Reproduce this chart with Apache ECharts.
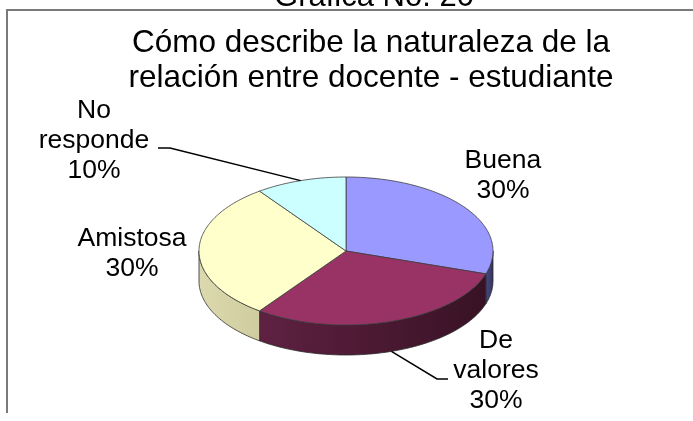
<!DOCTYPE html>
<html>
<head>
<meta charset="utf-8">
<script src="https://cdn.jsdelivr.net/npm/echarts@6/dist/echarts.min.js"></script>
<style>
  html, body { margin: 0; padding: 0; background: #fff; }
  #chart { width: 693px; height: 421px; }
</style>
</head>
<body>
<div id="chart"></div>
<script>
// ---- data ----
const categories = ['Buena', 'De valores', 'Amistosa', 'No responde'];
const values = [30, 30, 30, 10];
const wrapName = [false, true, false, true];

// ---- styles / layout ----
const FONT = '"Liberation Sans", Arial, Helvetica, sans-serif';
const topColors = ['#9999FF', '#993366', '#FFFFCC', '#CCFFFF'];
const sideColors = [['#4a4a88', '#33335e'], ['#5f2142', '#381224'], ['#dcd9ae', '#cfcc9f'], ['#99cccc', '#88aaaa']];
const PIE = { cx: 346, cy: 251, rx: 147, ry: 74, depth: 30 };
const labelOffsets = [[38, -31.5], [104.6, 19.6], [-67, 3], [-206.6, -39.5]];
const leaderOffsets = [null, [[45.6, 27.6], [56.6, 27.6]], null, [[-130.6, -32.6], [-142.6, -32.6]]];

const total = values.reduce((a, b) => a + b, 0);
const DEG = Math.PI / 180;

function ept(a, dy) {
  return [PIE.cx + PIE.rx * Math.cos(a), PIE.cy - PIE.ry * Math.sin(a) + (dy || 0)];
}
function arc(from, to, dy) {
  const pts = [];
  const n = Math.max(2, Math.ceil(Math.abs(to - from) / DEG));
  for (let k = 0; k <= n; k++) pts.push(ept(from + (to - from) * k / n, dy));
  return pts;
}

function renderItem(params, api) {
  const i = params.dataIndex;
  let before = 0;
  for (let k = 0; k < i; k++) before += values[k];
  const v = api.value(0);
  const a1 = Math.PI / 2 - before / total * 2 * Math.PI;
  const a2 = a1 - v / total * 2 * Math.PI;
  const mid = (a1 + a2) / 2;
  const children = [];

  // top face
  const topPts = [[PIE.cx, PIE.cy]].concat(arc(a1, a2, 0));
  children.push({
    type: 'polygon', z2: 5,
    shape: { points: topPts },
    style: { fill: topColors[i], stroke: '#3c3c3c', lineWidth: 0.8 }
  });

  // front side wall
  const hi = Math.min(a1, 0), lo = Math.max(a2, -Math.PI);
  if (hi > lo) {
    const sidePts = arc(hi, lo, 0).concat(arc(lo, hi, PIE.depth));
    children.push({
      type: 'polygon', z2: 1,
      shape: { points: sidePts },
      style: {
        fill: new echarts.graphic.LinearGradient(0, 0, 1, 0, [
          { offset: 0, color: sideColors[i][0] },
          { offset: 1, color: sideColors[i][1] }
        ]),
        stroke: '#2a2a2a', lineWidth: 0.8
      }
    });
  }

  // label anchor
  const anchor = ept(mid, Math.sin(mid) < -0.01 ? PIE.depth : 0);
  const lo2 = labelOffsets[i];
  const pct = Math.round(v / total * 100) + '%';
  const name = wrapName[i] ? categories[i].replace(' ', '\n') : categories[i];
  children.push({
    type: 'text', z2: 8,
    style: {
      text: name + '\n' + pct,
      x: anchor[0] + lo2[0], y: anchor[1] + lo2[1],
      fill: '#000', fontSize: 26.5, fontFamily: FONT, lineHeight: 30,
      align: 'center', verticalAlign: 'middle'
    }
  });
  if (leaderOffsets[i]) {
    const pts = [anchor].concat(leaderOffsets[i].map(o => [anchor[0] + o[0], anchor[1] + o[1]]));
    children.push({
      type: 'polyline', z2: 7,
      shape: { points: pts },
      style: { stroke: '#000', lineWidth: 1.5, fill: null }
    });
  }
  return { type: 'group', children };
}

const chart = echarts.init(document.getElementById('chart'), null, { renderer: 'canvas' });
chart.setOption({
  backgroundColor: '#fff',
  animation: false,
  graphic: [
    { type: 'polyline', shape: { points: [[7, 413], [7, 10], [693, 10]] },
      style: { stroke: '#7a7a7a', lineWidth: 2, fill: null } },
    { type: 'text', style: { text: 'Gráfica No. 20', x: 374, y: -3, fill: '#000',
      fontSize: 31, fontFamily: FONT, align: 'center', verticalAlign: 'middle' } },
    { type: 'text', style: { text: 'Cómo describe la naturaleza de la\nrelación entre docente - estudiante',
      x: 371, y: 61, fill: '#000', fontSize: 31.5, fontFamily: FONT, lineHeight: 35,
      align: 'center', verticalAlign: 'middle' } }
  ],
  series: [{
    type: 'custom',
    coordinateSystem: 'none',
    renderItem: renderItem,
    data: values.map((v, i) => ({ value: v, name: categories[i] }))
  }]
});
</script>
</body>
</html>
